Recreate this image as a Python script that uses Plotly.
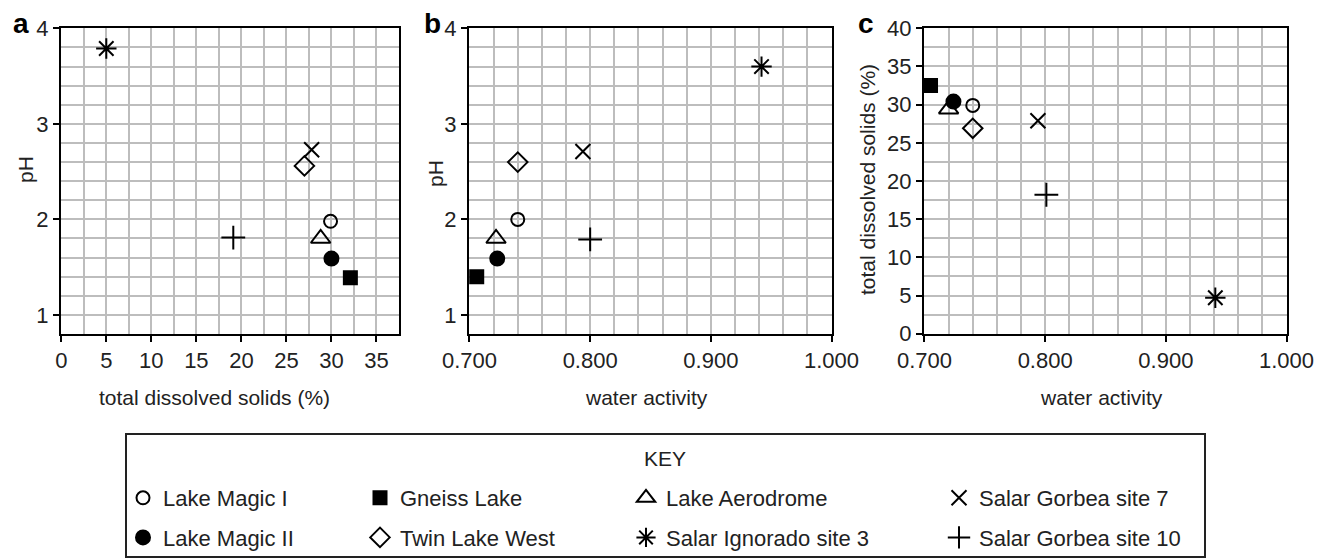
import plotly.graph_objects as go

W, H = 1317, 559

# ---------------- data ----------------
sites = ["Lake Magic I", "Lake Magic II", "Gneiss Lake", "Twin Lake West",
         "Lake Aerodrome", "Salar Ignorado site 3", "Salar Gorbea site 7",
         "Salar Gorbea site 10"]

# panel a: total dissolved solids (%) vs pH
tds_a = [29.9, 30.0, 32.1, 27.0, 28.8, 5.0, 27.8, 19.1]
ph_a = [1.98, 1.59, 1.39, 2.56, 1.80, 3.79, 2.73, 1.81]

# panel b: water activity vs pH
aw_b = [0.740, 0.723, 0.706, 0.740, 0.722, 0.942, 0.794, 0.800]
ph_b = [2.00, 1.59, 1.40, 2.60, 1.80, 3.60, 2.71, 1.79]

# panel c: water activity vs total dissolved solids (%)
aw_c = [0.740, 0.724, 0.705, 0.740, 0.720, 0.941, 0.794, 0.801]
tds_c = [29.9, 30.4, 32.5, 26.9, 29.4, 4.7, 27.9, 18.2]

ph_ticks = [1, 2, 3, 4]
tds_ticks = [0, 5, 10, 15, 20, 25, 30, 35]
tds_ticks_c = [0, 5, 10, 15, 20, 25, 30, 35, 40]
aw_ticks = [0.7, 0.8, 0.9, 1.0]

# ---------------- styles ----------------
symbols = ["circle-open", "circle", "square", "diamond-open", "triangle-up-open",
           "asterisk-open", "x-thin-open", "cross-thin-open"]
sizes = [13, 14, 13, 15, 17, 17, 15, 17]
legend_of = ["legend", "legend", "legend2", "legend2", "legend3", "legend3",
             "legend4", "legend4"]

FONT = "Liberation Sans, Arial, Helvetica, sans-serif"
TXT = "#222222"
GRID = "#bdbdbd"


def px_x(p):
    return p / W


def px_y(p):
    return 1 - p / H


fig = go.Figure()

panels = [
    (tds_a, ph_a, "x", "y"),
    (aw_b, ph_b, "x2", "y2"),
    (aw_c, tds_c, "x3", "y3"),
]

for pi, (xs, ys, xa, ya) in enumerate(panels):
    for i, name in enumerate(sites):
        fig.add_trace(go.Scatter(
            x=[xs[i]], y=[ys[i]], mode="markers", name=name,
            legendgroup=name, showlegend=(pi == 0), legend=legend_of[i],
            xaxis=xa, yaxis=ya,
            marker=dict(symbol=symbols[i], size=sizes[i], color="black",
                        line=dict(color="black", width=2)),
            hoverinfo="name+x+y",
        ))

top, bottom = 28, 334
ydom = [px_y(bottom), px_y(top)]

axis_common = dict(
    showline=True, linecolor="black", linewidth=2, mirror=True,
    ticks="outside", ticklen=6, tickwidth=2, tickcolor="black",
    showgrid=True, gridcolor=GRID, gridwidth=1.5, zeroline=False,
    tickfont=dict(family=FONT, size=22, color=TXT), automargin=False,
)

fig.update_layout(
    width=W, height=H,
    margin=dict(l=0, r=0, t=0, b=0, autoexpand=False),
    paper_bgcolor="white", plot_bgcolor="white",
    font=dict(family=FONT, color=TXT),
    xaxis=dict(domain=[px_x(61), px_x(399)], range=[-0.03, 37.5],
               tickvals=tds_ticks, anchor="y",
               minor=dict(dtick=2.5, tick0=0, showgrid=True, gridcolor=GRID,
                          gridwidth=1.5, ticks=""),
               **axis_common),
    yaxis=dict(domain=ydom, range=[0.8, 4.004], tickvals=ph_ticks, anchor="x",
               minor=dict(dtick=0.2, tick0=0, showgrid=True, gridcolor=GRID,
                          gridwidth=1.5, ticks=""),
               **axis_common),
    xaxis2=dict(domain=[px_x(469), px_x(832)], range=[0.6996, 1.0004],
                tickvals=aw_ticks, tickformat=".3f", anchor="y2",
                minor=dict(dtick=0.02, tick0=0.7, showgrid=True, gridcolor=GRID,
                           gridwidth=1.5, ticks=""),
                **axis_common),
    yaxis2=dict(domain=ydom, range=[0.8, 4.004], tickvals=ph_ticks, anchor="x2",
                minor=dict(dtick=0.2, tick0=0, showgrid=True, gridcolor=GRID,
                           gridwidth=1.5, ticks=""),
                **axis_common),
    xaxis3=dict(domain=[px_x(924), px_x(1287)], range=[0.6996, 1.0004],
                tickvals=aw_ticks, tickformat=".3f", anchor="y3",
                minor=dict(dtick=0.02, tick0=0.7, showgrid=True, gridcolor=GRID,
                           gridwidth=1.5, ticks=""),
                **axis_common),
    yaxis3=dict(domain=ydom, range=[-0.04, 40.04], tickvals=tds_ticks_c,
                anchor="x3",
                minor=dict(dtick=2.5, tick0=0, showgrid=True, gridcolor=GRID,
                           gridwidth=1.5, ticks=""),
                **axis_common),
    showlegend=True,
)

legend_common = dict(
    orientation="v", xanchor="left", yanchor="top",
    font=dict(family=FONT, size=22, color=TXT),
    bgcolor="rgba(0,0,0,0)", borderwidth=0, tracegroupgap=8,
    itemclick=False, itemdoubleclick=False,
)
leg_x = [123, 360, 626, 939]
leg_top = 477
fig.update_layout(
    legend=dict(x=px_x(leg_x[0]), y=px_y(leg_top), **legend_common),
    legend2=dict(x=px_x(leg_x[1]), y=px_y(leg_top), **legend_common),
    legend3=dict(x=px_x(leg_x[2]), y=px_y(leg_top), **legend_common),
    legend4=dict(x=px_x(leg_x[3]), y=px_y(leg_top), **legend_common),
)

# legend frame
fig.add_shape(type="rect", xref="paper", yref="paper",
              x0=px_x(126), x1=px_x(1205), y0=px_y(557), y1=px_y(434),
              line=dict(color="#222222", width=2), fillcolor="rgba(0,0,0,0)")

annotations = [
    # panel letters
    dict(text="<b>a</b>", x=px_x(21), y=px_y(24), size=28),
    dict(text="<b>b</b>", x=px_x(432), y=px_y(23), size=28),
    dict(text="<b>c</b>", x=px_x(866), y=px_y(24), size=28),
    # axis titles
    dict(text="total dissolved solids (%)", x=px_x(214), y=px_y(397), size=21),
    dict(text="water activity", x=px_x(646), y=px_y(397), size=21),
    dict(text="water activity", x=px_x(1101), y=px_y(397), size=21),
    dict(text="pH", x=px_x(25), y=px_y(170), size=21, angle=-90),
    dict(text="pH", x=px_x(435), y=px_y(174), size=21, angle=-90),
    dict(text="total dissolved solids (%)", x=px_x(867), y=px_y(180), size=21,
         angle=-90),
    dict(text="KEY", x=px_x(665), y=px_y(458), size=21),
]
for a in annotations:
    fig.add_annotation(
        text=a["text"], x=a["x"], y=a["y"], xref="paper", yref="paper",
        xanchor="center", yanchor="middle", showarrow=False,
        textangle=a.get("angle", 0),
        font=dict(family=FONT, size=a["size"], color=TXT if a["size"] < 25 else "black"),
    )

fig.write_html(
    "out.html",
    config={"displayModeBar": False},
    post_script="document.body.style.margin='0';"
                "document.body.style.overflow='hidden';",
)
